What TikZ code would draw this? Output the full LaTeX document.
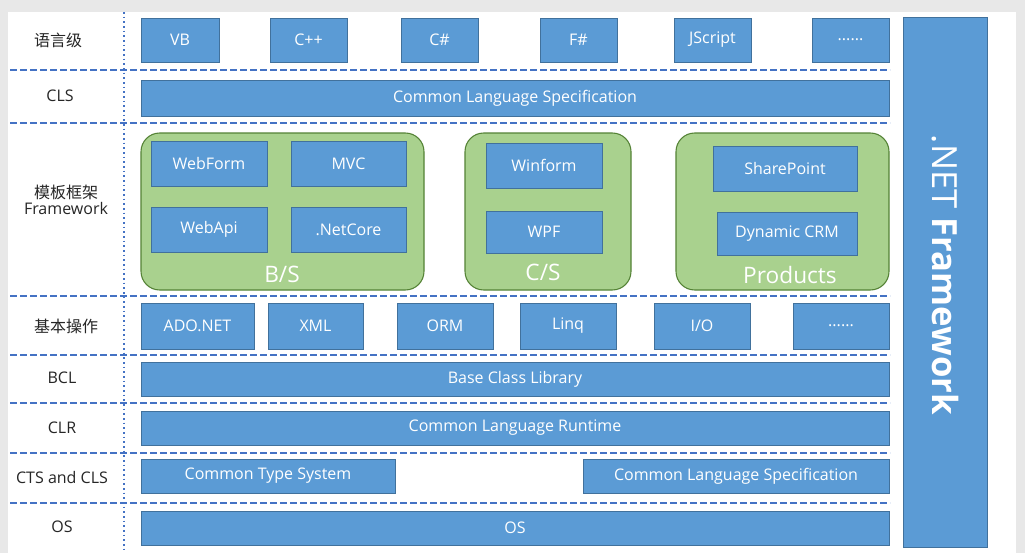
\documentclass[tikz,border=0pt]{standalone}
\usepackage{fontspec}
\setmainfont{Open Sans}
\newfontfamily\cjk{Noto Sans CJK SC}
\begin{document}
\begin{tikzpicture}[x=0.75pt,y=-0.75pt,
  bx/.style={draw=bbord,fill=bfill,text=white,font=\fontsize{12}{14}\selectfont,inner sep=0pt},
  gr/.style={draw=gbord,fill=gfill,rounded corners=14pt,line width=0.8pt},
  lab/.style={font=\fontsize{12}{14}\selectfont,text=black!85,align=center},
  glab/.style={text=white,font=\fontsize{17}{19}\selectfont},
  dl/.style={draw=dash,line width=1.2pt,dash pattern=on 5pt off 2.5pt}]
\definecolor{bfill}{HTML}{5B9BD5}\definecolor{bbord}{HTML}{41719C}
\definecolor{gfill}{HTML}{A9D18E}\definecolor{gbord}{HTML}{548235}
\definecolor{dash}{HTML}{4472C4}
\fill[black!9] (0,0) rectangle (1025,553);
\fill[white] (8,12) rectangle (1016,553);
\useasboundingbox (0,0) rectangle (1025,553);
\newcommand\bb[6]{\node[bx,minimum width={(#3-#2)*0.75pt},minimum height={(#5-#4)*0.75pt}] (#1) at ({(#2+#3)/2},{(#4+#5)/2}) {#6};}
% dividers
\foreach \y in {70,123,296,355,403,453,503}{\draw[dl] (10,\y) -- (890,\y);}
\draw[draw=dash,line width=1.3pt,dash pattern=on 1.3pt off 2.2pt] (124,12) -- (124,553);
% labels
\node[lab] (l1) at (58,40) {\cjk 语言级};
\node[lab] (l2) at (60,96) {CLS};
\node[lab] (l3) at (66,200) {{\cjk 模板框架}\\[-2pt]Framework};
\node[lab] (l4) at (66,326) {\cjk 基本操作};
\node[lab] (l5) at (62,378) {BCL};
\node[lab] (l6) at (62,428) {CLR};
\node[lab] (l7) at (62,477) {CTS and CLS};
\node[lab] (l8) at (62,527) {OS};
% row 1
\bb{vb}{141}{219}{18}{62}{VB}
\bb{cpp}{270}{347}{18}{62}{C++}
\bb{cs}{401}{478}{18}{62}{C\#}
\bb{fs}{540}{617}{18}{62}{F\#}
\bb{js}{674}{751}{18}{62}{JScript}
\bb{dt1}{812}{889}{18}{62}{......}
\bb{cls}{141}{889}{80}{116}{Common Language Specification}
% green
\draw[gr] (141,133) rectangle (424,290);
\draw[gr] (465,133) rectangle (631,290);
\draw[gr] (676,133) rectangle (889,290);
\node[glab] (bs) at (282,274) {B/S};
\node[glab] (csl) at (543,272) {C/S};
\node[glab] (pr) at (790,275) {Products};
\bb{wf}{151}{267}{141}{186}{WebForm}
\bb{mvc}{291}{406}{141}{186}{MVC}
\bb{wa}{151}{267}{207}{252}{WebApi}
\bb{nc}{291}{406}{207}{252}{.NetCore}
\bb{win}{486}{602}{143}{188}{Winform}
\bb{wpf}{486}{602}{211}{253}{WPF}
\bb{sp}{713}{857}{146}{191}{SharePoint}
\bb{crm}{717}{857}{212}{255}{Dynamic CRM}
% basic ops
\bb{ado}{141}{254}{303}{349}{ADO.NET}
\bb{xml}{268}{363}{303}{349}{XML}
\bb{orm}{397}{493}{303}{349}{ORM}
\bb{linq}{520}{616}{303}{349}{Linq}
\bb{io}{654}{750}{303}{349}{I/O}
\bb{dt2}{793}{889}{303}{349}{......}
\bb{bcl}{141}{889}{362}{396}{Base Class Library}
\bb{clr}{141}{889}{411}{445}{Common Language Runtime}
\bb{cts}{141}{395}{459}{493}{Common Type System}
\bb{cls2}{583}{889}{459}{493}{Common Language Specification}
\bb{os}{141}{889}{511}{545}{OS}
\node[bx,minimum width={84*0.75pt},minimum height={530*0.75pt}] (net) at (945,282) {};
\node[text=white,rotate=-90,font=\fontsize{26}{30}\selectfont] (nett) at (945,275) {.NET \textbf{Framework}};
\end{tikzpicture}
\end{document}
